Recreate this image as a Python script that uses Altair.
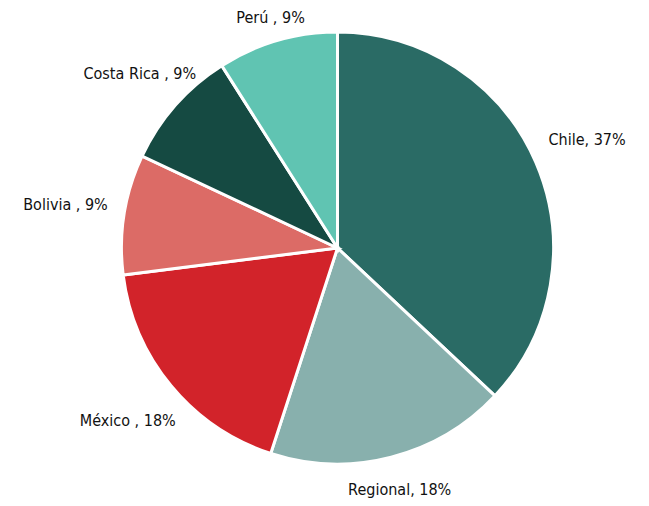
import altair as alt
import pandas as pd

categories = ["Chile", "Regional", "México", "Bolivia", "Costa Rica", "Perú"]
values = [37, 18, 18, 9, 9, 9]
labels = ["Chile, 37%", "Regional, 18%", "México , 18%", "Bolivia , 9%", "Costa Rica , 9%", "Perú , 9%"]
colors = ["#2a6b65", "#88b0ad", "#d2232a", "#dc6b66", "#154a42", "#60c4b2"]

df = pd.DataFrame({
    "cat": categories,
    "value": values,
    "label": labels,
    "order": list(range(len(categories))),
})

FONT = "Liberation Sans Narrow, DejaVu Sans Condensed, sans-serif"

arcs = alt.Chart(df).mark_arc(outerRadius=216, stroke="white", strokeWidth=3).encode(
    theta=alt.Theta("value:Q", stack=True),
    order=alt.Order("order:Q"),
    color=alt.Color("cat:N", scale=alt.Scale(domain=categories, range=colors), legend=None),
)

text = alt.Chart(df).transform_joinaggregate(
    total="sum(value)"
).transform_window(
    cum="sum(value)", sort=[alt.SortField("order")], frame=[None, 0]
).transform_calculate(
    mid="2*PI*(datum.cum - datum.value/2)/datum.total",
).transform_calculate(
    r="226 + 50*abs(sin(datum.mid)) + 12*max(0, -cos(datum.mid))"
).mark_text(font=FONT, fontSize=16, color="#111111").encode(
    theta=alt.Theta("mid:Q", stack=None,
                    scale=alt.Scale(type="linear", domain=[0, 6.283185307179586],
                                    range=[0, 6.283185307179586], zero=True)),
    radius=alt.Radius("r:Q", scale=alt.Scale(type="linear", domain=[0, 300], range=[0, 300], zero=True)),
    text="label:N",
)

chart = alt.layer(arcs, text).resolve_scale(
    theta="independent", radius="independent"
).properties(
    width=607,
    height=480,
    padding={"left": 26, "top": 0, "right": 0, "bottom": 10},
    autosize=alt.AutoSizeParams(type="none"),
).configure_view(stroke=None)

chart.save("out.html", embed_options={"renderer": "svg", "actions": False})
